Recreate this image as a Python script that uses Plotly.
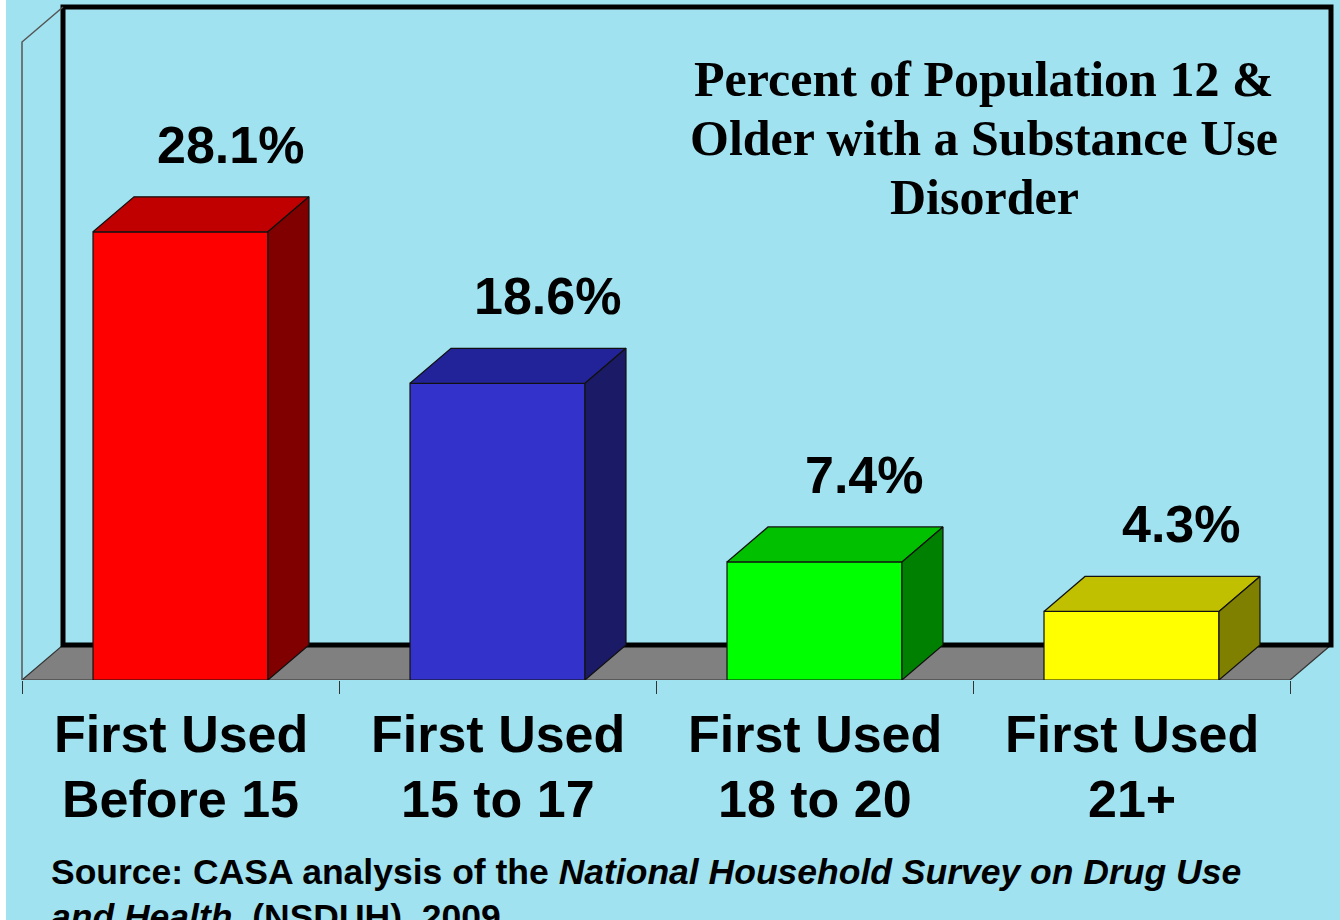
import plotly.graph_objects as go

# ---------------- data ----------------
categories = ["First Used<br>Before 15", "First Used<br>15 to 17",
              "First Used<br>18 to 20", "First Used<br>21+"]
values = [28.1, 18.6, 7.4, 4.3]
value_labels = ["28.1%", "18.6%", "7.4%", "4.3%"]
front_colors = ["#FF0000", "#3333CC", "#00FF00", "#FFFF00"]
top_colors = ["#C00000", "#232399", "#00C000", "#C0C000"]
side_colors = ["#800000", "#1A1A66", "#008000", "#808000"]
title_lines = ["Percent of Population 12 &", "Older with a Substance Use", "Disorder"]
source_lines = ["Source: CASA analysis of the <i>National Household Survey on Drug Use</i>",
                "<i>and Health</i>, (NSDUH), 2009"]
wall_max = 40

# ---------------- geometry ----------------
W, H = 1340, 920
BOTTOM = 240
PX_X = 317.0          # pixels per category
X0_PX = 180.5         # pixel of first category centre
PX_Y = 15.95          # pixels per percent
x_range = [-X0_PX / PX_X, (W - X0_PX) / PX_X]
y_range = [0, (H - BOTTOM) / PX_Y]
bar_w = 0.552
dx = 41 / PX_X
dy = 35 / PX_Y
n = len(values)
BG = "#A0E2EF"

fig = go.Figure()

# front faces
fig.add_trace(go.Bar(
    x=list(range(n)), y=values, width=bar_w,
    marker=dict(color=front_colors, line=dict(color="#111111", width=1.2)),
    hoverinfo="skip", showlegend=False))

# top and side faces
for i, v in enumerate(values):
    xl, xr = i - bar_w / 2, i + bar_w / 2
    fig.add_trace(go.Scatter(
        x=[xl, xr, xr + dx, xl + dx, xl], y=[v, v, v + dy, v + dy, v],
        fill="toself", fillcolor=top_colors[i], mode="lines",
        line=dict(color="#111111", width=1.2), hoverinfo="skip", showlegend=False))
    fig.add_trace(go.Scatter(
        x=[xr, xr + dx, xr + dx, xr, xr], y=[0, dy, v + dy, v, 0],
        fill="toself", fillcolor=side_colors[i], mode="lines",
        line=dict(color="#111111", width=1.2), hoverinfo="skip", showlegend=False))

shapes = []
# floor
shapes.append(dict(type="path", xref="x", yref="y", layer="below",
                   path=f"M {-0.5},0 L {n-0.5},0 L {n-0.5+dx},{dy} L {-0.5+dx},{dy} Z",
                   fillcolor="#808080", line=dict(color="#333333", width=1.2)))
# back wall frame
shapes.append(dict(type="path", xref="x", yref="y", layer="below",
                   path=(f"M {-0.5+dx},{dy} L {-0.5+dx},{wall_max+dy} "
                         f"L {n-0.5+dx},{wall_max+dy} L {n-0.5+dx},{dy} Z"),
                   line=dict(color="black", width=5)))
# left side wall
shapes.append(dict(type="path", xref="x", yref="y", layer="below",
                   path=f"M {-0.5},0 L {-0.5},{wall_max} L {-0.5+dx},{wall_max+dy}",
                   line=dict(color="#555555", width=1.5)))
# white strip on left edge
shapes.append(dict(type="rect", xref="paper", yref="paper", layer="below",
                   x0=0, x1=6 / W, y0=-BOTTOM / (H - BOTTOM), y1=1.02,
                   fillcolor="white", line=dict(width=0)))

annotations = []
# value labels
for i, v in enumerate(values):
    annotations.append(dict(x=i + 50 / PX_X, y=v + dy + 52 / PX_Y, xref="x", yref="y",
                            text=value_labels[i], showarrow=False,
                            xanchor="center", yanchor="middle",
                            font=dict(family="Liberation Sans", size=52, color="black",
                                      weight="bold")))
# category labels
plot_h = H - BOTTOM
for i, c in enumerate(categories):
    for j, line in enumerate(c.split("<br>")):
        ypx = 734 + 65 * j
        annotations.append(dict(x=i, y=(plot_h - ypx) / plot_h, xref="x", yref="paper",
                                text=line, showarrow=False,
                                xanchor="center", yanchor="middle",
                                font=dict(family="Liberation Sans", size=52, color="black",
                                          weight="bold")))
# title
for j, line in enumerate(title_lines):
    ypx = 79 + 59 * j
    annotations.append(dict(x=984 / W, y=(plot_h - ypx) / plot_h, xref="paper", yref="paper",
                            text=line, showarrow=False, xanchor="center", yanchor="middle",
                            font=dict(family="Liberation Serif", size=50, color="black",
                                      weight="bold")))
# source
for j, line in enumerate(source_lines):
    ypx = 872 + 45 * j
    annotations.append(dict(x=49 / W, y=(plot_h - ypx) / plot_h, xref="paper", yref="paper",
                            text=line, showarrow=False, xanchor="left", yanchor="middle",
                            font=dict(family="Liberation Sans", size=35.5, color="black",
                                      weight="bold")))

ticks = [i - 0.5 for i in range(n + 1)]
fig.update_layout(
    width=W, height=H,
    margin=dict(l=0, r=0, t=0, b=BOTTOM, pad=0),
    paper_bgcolor=BG, plot_bgcolor=BG,
    shapes=shapes, annotations=annotations,
    xaxis=dict(range=x_range, showgrid=False, zeroline=False, showline=False,
               tickvals=ticks, ticktext=[""] * len(ticks), ticks="outside",
               ticklen=13, tickwidth=1.2, tickcolor="#333333", fixedrange=True),
    yaxis=dict(range=y_range, visible=False, fixedrange=True),
    showlegend=False,
)

fig.write_html("out.html", config={"displayModeBar": False},
               post_script="document.body.style.margin='0';document.body.style.overflow='hidden';")
